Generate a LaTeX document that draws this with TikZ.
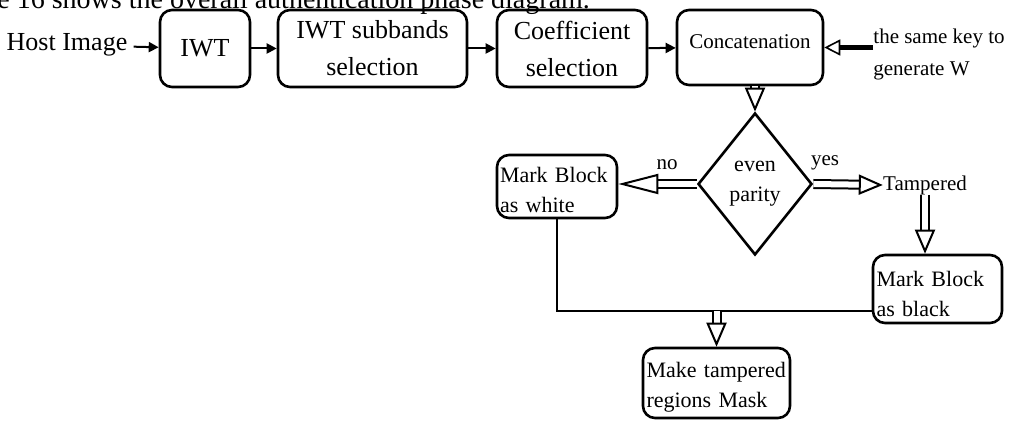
\documentclass[tikz,border=0pt]{standalone}
\usepackage{fontspec}
\setmainfont{Liberation Serif}
\usetikzlibrary{shapes.geometric,arrows.meta}

\begin{document}
\begin{tikzpicture}[
    x=0.5pt, y=-0.5pt,
    box/.style={rectangle, draw, line width=1.3pt, rounded corners=6pt, align=center, inner sep=1pt, font=\fontsize{13}{18.5}\selectfont},
    leftbox/.style={box, align=left, inner xsep=1.5pt, inner ysep=0pt, font=\fontsize{11}{15}\selectfont},
    arrow/.style={-{Triangle[length=5pt,width=5pt]}, line width=1pt},
    hollow/.style={double=white, double distance=3pt, line width=1pt, -{Triangle[open,length=12pt,width=10pt]}},
    keyarrow/.style={line width=2.5pt, -{Triangle[open,length=8pt,width=8pt,line width=0.8pt]}},
    note/.style={font=\fontsize{10.5}{14}\selectfont, inner sep=0pt}
]
    \clip (0,0) rectangle (1010,421);
    \useasboundingbox (0,0) rectangle (1010,421);

    \node[font=\fontsize{14}{17}\selectfont, anchor=base west, inner sep=0pt] (caption) at (-3,9) {e 16 shows the overall authentication phase diagram.};

    \node[font=\fontsize{13}{16}\selectfont, inner sep=0pt] (host) at (67,45) {Host Image};
    \node[box, minimum width=45pt, minimum height=38.5pt] (iwt) at (205,48.5) {IWT};
    \node[box, minimum width=94.5pt, minimum height=38.5pt] (subbands) at (372.5,48.5) {IWT subbands\\selection};
    \node[box, minimum width=75pt, minimum height=38.5pt] (coeff) at (572,48.5) {Coefficient\\selection};
    \node[box, minimum width=73pt, inner ysep=0pt, text height=19.5pt, text depth=18pt, font=\fontsize{10.5}{13}\selectfont] (concat) at (750,47.5) {Concatenation};
    \node[note, align=left, anchor=west, font=\fontsize{10.5}{16}\selectfont] (key) at (873,54) {the same key to\\generate W};

    \node[diamond, draw, line width=1.3pt, minimum width=57pt, minimum height=71pt, inner sep=0pt, aspect=0.8, align=center, font=\fontsize{11}{15}\selectfont] (parity) at (755,184) {even\\parity};
    \node[note] (no) at (667,165) {no};
    \node[note] (yes) at (825,163) {yes};
    \node[note] (tampered) at (925,185) {Tampered};

    \node[leftbox, minimum width=60pt, text width=57pt, text height=14pt, text depth=17.5pt] (white) at (557,186.5) {Mark Block\\as white};
    \node[leftbox, minimum width=64.5pt, text width=61pt, text height=16pt, text depth=18pt] (black) at (937.5,289) {Mark Block\\as black};
    \node[leftbox, minimum width=73.5pt, text width=70pt, text height=15pt, text depth=20pt] (mask) at (716.5,383) {Make tampered\\regions Mask};
    \coordinate (merge) at (557,311);

    \draw[arrow, shorten <=3pt] (host) -- (iwt);
    \draw[arrow] (iwt) -- (subbands);
    \draw[arrow] (subbands) -- (coeff);
    \draw[arrow] (coeff) -- (concat);
    \draw[keyarrow] (key.west |- concat.east) -- (concat.east);

    \draw[hollow] (concat.south -| parity.north) -- (parity.north);
    \draw[hollow, -{Triangle[open,length=20pt,width=10pt]}] (parity.west) -- (parity.west -| white.east);
    \draw[hollow] (parity.east) -- (tampered.west);
    \draw[hollow] (tampered.south) -- (tampered.south |- black.north);

    % joining the two marks
    \draw[line width=1.3pt] (white.south) -- (merge) -- (merge -| black.west);
    \draw[hollow] (merge -| mask.north) -- (mask.north);
\end{tikzpicture}
\end{document}
